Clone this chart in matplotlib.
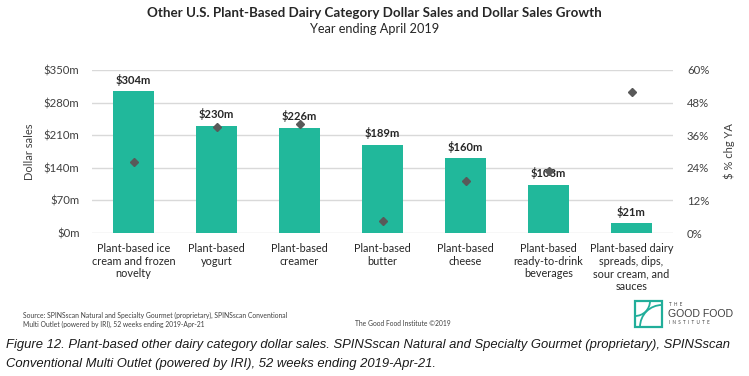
import matplotlib
matplotlib.use("Agg")
import matplotlib.pyplot as plt
from matplotlib.patches import Rectangle, Arc
import numpy as np

categories = [
    "Plant-based ice\ncream and frozen\nnovelty",
    "Plant-based\nyogurt",
    "Plant-based\ncreamer",
    "Plant-based\nbutter",
    "Plant-based\ncheese",
    "Plant-based\nready-to-drink\nbeverages",
    "Plant-based dairy\nspreads, dips,\nsour cream, and\nsauces",
]
sales = [304, 230, 226, 189, 160, 103, 21]
growth = [26.1, 38.9, 40.1, 4.4, 19.1, 23.0, 52.0]
left_ticks = [0, 70, 140, 210, 280, 350]
right_ticks = [0, 12, 24, 36, 48, 60]

FONT = ["Lato", "DejaVu Sans"]
plt.rcParams["font.family"] = FONT

fig = plt.figure(figsize=(7.49, 3.76), dpi=100)
fig.patch.set_facecolor("white")
ax = fig.add_axes([92/749, 1-233/376, (673-92)/749, (233-70)/376])
x = np.arange(len(categories))
ax.bar(x, sales, width=0.5, color="#21B89B", zorder=2)
ax.set_xlim(-0.5, len(categories)-0.5)
ax.set_ylim(0, 350)
ax.set_yticks(left_ticks)
ax.set_yticklabels([f"${v}m" for v in left_ticks], fontsize=8.2, color="#404040")
ax.yaxis.grid(True, color="#D9D9D9", linewidth=1, zorder=0)
ax.set_axisbelow(True)
for s in ax.spines.values():
    s.set_visible(False)
ax.tick_params(axis="y", length=0, pad=9)
ax.tick_params(axis="x", length=0, pad=7)
ax.set_xticks(x)
ax.set_xticklabels(categories, fontsize=7.8, color="#262626", linespacing=1.2, va="top")
ax.set_ylabel("Dollar sales", fontsize=8, color="#404040", labelpad=6)
for xi, v in zip(x, sales):
    ax.annotate(f"${v}m", (xi, v), xytext=(0, 4), textcoords="offset points",
                ha="center", va="bottom", fontsize=8, fontweight="bold", color="#262626", zorder=4)

ax2 = ax.twinx()
ax2.set_ylim(0, 60)
ax2.set_yticks(right_ticks)
ax2.set_yticklabels([f"{v}%" for v in right_ticks], fontsize=8.2, color="#404040")
for s in ax2.spines.values():
    s.set_visible(False)
ax2.tick_params(axis="y", length=0, pad=10)
ax2.plot(x, growth, linestyle="none", marker="D", markersize=4.2, color="#595959", zorder=5)
ax2.set_ylabel("$ % chg YA", fontsize=8, color="#404040", labelpad=10)

fig.text(0.5, 1-13/376, "Other U.S. Plant-Based Dairy Category Dollar Sales and Dollar Sales Growth",
         ha="center", va="center", fontsize=9.6, fontweight="bold", color="#262626")
fig.text(0.5, 1-29/376, "Year ending April 2019", ha="center", va="center", fontsize=9.2, color="#262626")

fig.text(23/749, 1-315/376, "Source: SPINSscan Natural and Specialty Gourmet (proprietary), SPINSscan Conventional",
         ha="left", va="center", fontsize=4.9, color="#404040")
fig.text(23/749, 1-324/376, "Multi Outlet (powered by IRI), 52 weeks ending 2019-Apr-21",
         ha="left", va="center", fontsize=4.9, color="#404040")
fig.text(355/749, 1-324/376, "The Good Food Institute \u00a92019",
         ha="left", va="center", fontsize=4.9, color="#404040")

cap_font = ["Liberation Sans", "DejaVu Sans"]
fig.text(6/749, 1-345/376, "Figure 12. Plant-based other dairy category dollar sales. SPINSscan Natural and Specialty Gourmet (proprietary), SPINSscan",
         ha="left", va="center", fontsize=9.35, style="italic", family=cap_font, color="#1a1a1a")
fig.text(6/749, 1-364/376, "Conventional Multi Outlet (powered by IRI), 52 weeks ending 2019-Apr-21.",
         ha="left", va="center", fontsize=9.35, style="italic", family=cap_font, color="#1a1a1a")

# logo
logo_col = "#21AE9A"
fig.patches.append(Rectangle((635/749, 1-327/376), 27/749, 26/376, transform=fig.transFigure,
                             fill=False, edgecolor=logo_col, linewidth=1.6))
fig.patches.append(Arc((662/749, 1-327/376), 44/749, 44/376, theta1=90, theta2=180,
                       transform=fig.transFigure, edgecolor=logo_col, linewidth=1.3))
fig.patches.append(Arc((635/749, 1-301/376), 30/749, 30/376, theta1=270, theta2=360,
                       transform=fig.transFigure, edgecolor=logo_col, linewidth=1.3))
fig.text(669/749, 1-305/376, "T  H  E", ha="left", va="center", fontsize=3.3, color="#404040")
fig.text(668/749, 1-314/376, "GOOD FOOD", ha="left", va="center", fontsize=7.6, color="#404040",
         family=["Liberation Sans", "DejaVu Sans"])
fig.text(669/749, 1-323/376, "I  N  S  T  I  T  U  T  E", ha="left", va="center", fontsize=3.3, color="#404040")

fig.savefig("out.png", dpi=100, facecolor="white")
